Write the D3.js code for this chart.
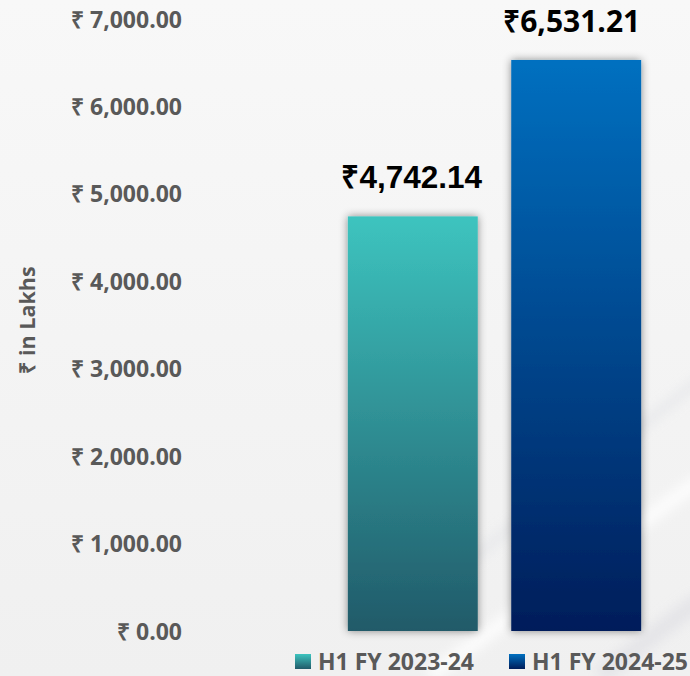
<!DOCTYPE html>
<html>
<head>
<meta charset="utf-8">
<script src="https://cdn.jsdelivr.net/npm/d3@7"></script>
<style>
  html, body { margin: 0; padding: 0; }
  body { width: 690px; height: 676px; overflow: hidden; }
</style>
</head>
<body>
<script>
let w = 690;
let h = 676;

// data
let categories = ["H1 FY 2023-24", "H1 FY 2024-25"];
let values = [4742.14, 6531.21];
let valueLabels = ["₹4,742.14", "₹6,531.21"];
let yTicks = [0, 1000, 2000, 3000, 4000, 5000, 6000, 7000];
let yTitle = "₹ in Lakhs";

// gradient stops per bar (top, bottom)
let barColors = [["#3dc4bf", "#215a69"], ["#0070c0", "#001d5a"]];

let fmt = d3.format(",.2f");

let svg = d3.select("body")
    .append("svg")
    .attr("width", w)
    .attr("height", h);

let defs = svg.append("defs");

// background gradient
let bg = defs.append("linearGradient")
    .attr("id", "bg")
    .attr("x1", 0).attr("y1", 0).attr("x2", 0).attr("y2", 1);
bg.append("stop").attr("offset", 0).attr("stop-color", "#f8f8f8");
bg.append("stop").attr("offset", 1).attr("stop-color", "#f0f0f0");

barColors.forEach(function(c, i) {
    let g = defs.append("linearGradient")
        .attr("id", "bar" + i)
        .attr("x1", 0).attr("y1", 0).attr("x2", 0).attr("y2", 1);
    g.append("stop").attr("offset", 0).attr("stop-color", c[0]);
    g.append("stop").attr("offset", 1).attr("stop-color", c[1]);
});

let shadow = defs.append("filter")
    .attr("id", "shadow")
    .attr("x", -0.2).attr("y", -0.2).attr("width", 1.4).attr("height", 1.4);
shadow.append("feDropShadow")
    .attr("dx", 0).attr("dy", 0)
    .attr("stdDeviation", 4)
    .attr("flood-color", "#000")
    .attr("flood-opacity", 0.45);

let blur = defs.append("filter").attr("id", "blur");
blur.append("feGaussianBlur").attr("stdDeviation", 6);

svg.append("rect")
    .attr("width", w).attr("height", h)
    .attr("fill", "url(#bg)");

// faint diagonal streaks in the bottom right
let streaks = svg.append("g").attr("filter", "url(#blur)").attr("opacity", 0.8);
streaks.append("line")
    .attr("x1", 430).attr("y1", 676).attr("x2", 700).attr("y2", 480)
    .attr("stroke", "#ffffff").attr("stroke-width", 14);
streaks.append("line")
    .attr("x1", 600).attr("y1", 676).attr("x2", 700).attr("y2", 600)
    .attr("stroke", "#e2e2e6").attr("stroke-width", 18);
streaks.append("line")
    .attr("x1", 470).attr("y1", 560).attr("x2", 700).attr("y2", 380)
    .attr("stroke", "#e6e7ea").attr("stroke-width", 10);

// scales
let xScale = d3.scaleBand()
    .domain(categories)
    .range([331.5, 657.5])
    .paddingInner(0.205)
    .paddingOuter(0.1);

let yScale = d3.scaleLinear()
    .domain([0, 7000])
    .range([631, 19]);

// y axis labels
let yAxis = d3.axisLeft(yScale)
    .tickValues(yTicks)
    .tickSize(0)
    .tickPadding(0)
    .tickFormat(function(d) { return "₹ " + fmt(d); });

let yAxisG = svg.append("g")
    .attr("transform", "translate(182,0)")
    .call(yAxis);
yAxisG.select(".domain").remove();
yAxisG.selectAll("text")
    .attr("dy", "0.35em")
    .style("font-family", "'Open Sans', sans-serif")
    .style("font-weight", "bold")
    .style("font-size", "23px")
    .style("fill", "#595959");

// y title
svg.append("text")
    .attr("transform", "translate(35,320) rotate(-90)")
    .attr("text-anchor", "middle")
    .style("font-family", "'Open Sans', sans-serif")
    .style("font-weight", "bold")
    .style("font-size", "21.5px")
    .style("fill", "#595959")
    .text(yTitle);

// bars
svg.selectAll("rect.bar")
    .data(values)
    .enter()
    .append("rect")
    .attr("class", "bar")
    .attr("x", function(d, i) { return xScale(categories[i]); })
    .attr("y", function(d) { return yScale(d); })
    .attr("width", xScale.bandwidth())
    .attr("height", function(d) { return yScale(0) - yScale(d); })
    .attr("fill", function(d, i) { return "url(#bar" + i + ")"; })
    .attr("filter", "url(#shadow)");

// value labels
let labelFonts = ["'Liberation Sans', Arial, sans-serif", "'Open Sans', sans-serif"];
let labelSizes = ["31.5px", "30px"];
let labelShift = [-1, -4.5];
svg.selectAll("text.val")
    .data(values)
    .enter()
    .append("text")
    .attr("class", "val")
    .attr("x", function(d, i) { return xScale(categories[i]) + xScale.bandwidth() / 2 + labelShift[i]; })
    .attr("y", function(d) { return yScale(d) - 28; })
    .attr("text-anchor", "middle")
    .style("font-family", function(d, i) { return labelFonts[i]; })
    .style("font-weight", "bold")
    .style("font-size", function(d, i) { return labelSizes[i]; })
    .style("fill", "#000")
    .text(function(d, i) { return valueLabels[i]; });

// legend
let legendX = [295, 509];
let legend = svg.selectAll("g.legend")
    .data(categories)
    .enter()
    .append("g")
    .attr("class", "legend")
    .attr("transform", function(d, i) { return "translate(" + legendX[i] + ",654)"; });

legend.append("rect")
    .attr("width", 16).attr("height", 15)
    .attr("fill", function(d, i) { return "url(#bar" + i + ")"; });

legend.append("text")
    .attr("x", 23)
    .attr("y", 8)
    .attr("dy", "0.36em")
    .style("font-family", "'Open Sans', sans-serif")
    .style("font-weight", "bold")
    .style("font-size", "23px")
    .style("fill", "#595959")
    .text(function(d) { return d; });
</script>
</body>
</html>
